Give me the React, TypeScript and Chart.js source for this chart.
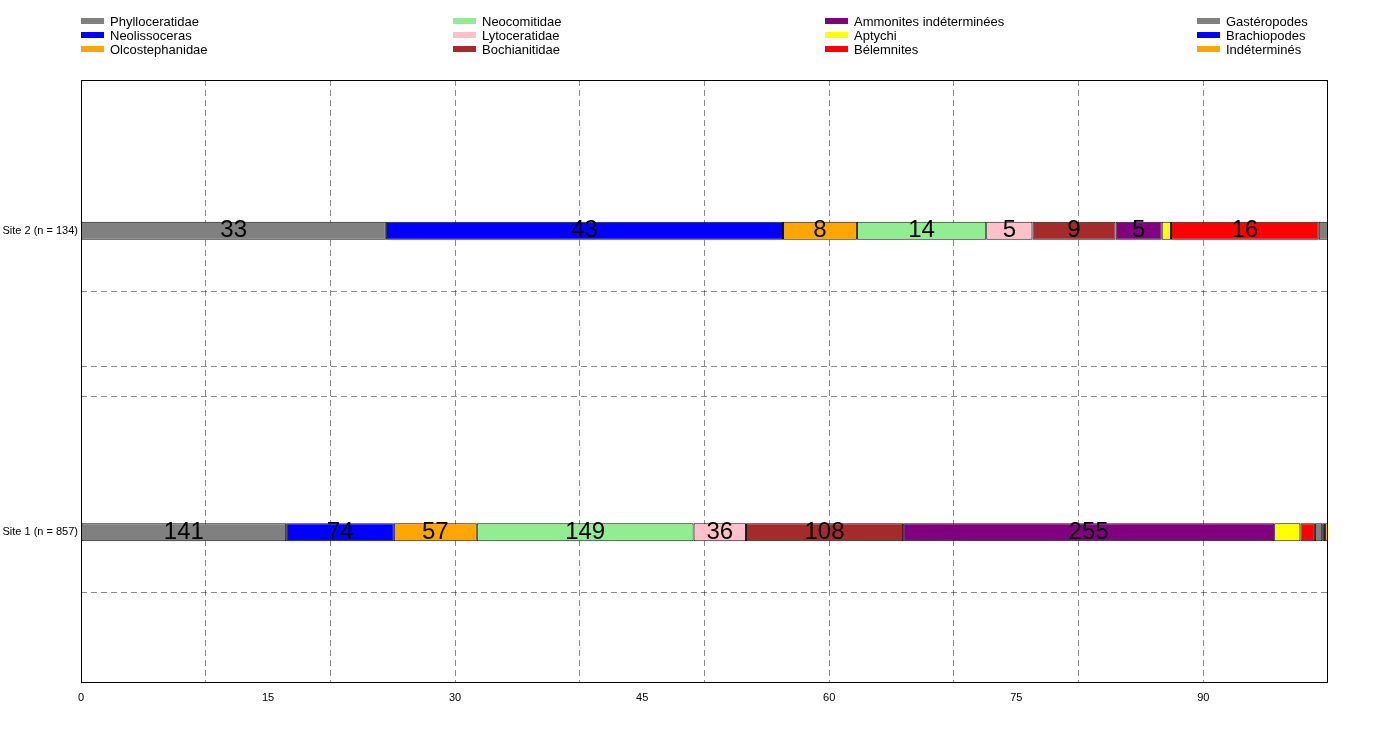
import React, { useEffect, useRef } from "react";
import { Chart, registerables } from "chart.js";
Chart.register(...registerables);

const categories = ["Site 2 (n = 134)", "Site 1 (n = 857)"];
const groups = [
  "Phylloceratidae", "Neolissoceras", "Olcostephanidae",
  "Neocomitidae", "Lytoceratidae", "Bochianitidae",
  "Ammonites indéterminées", "Aptychi", "Bélemnites",
  "Gastéropodes", "Brachiopodes", "Indéterminés",
];
const colors = [
  "#808080", "#0000ff", "#ffa500", "#90ee90", "#ffc0cb", "#a52a2a",
  "#800080", "#ffff00", "#ff0000", "#808080", "#0000ff", "#ffa500",
];
const site2Counts = [33, 43, 8, 14, 5, 9, 5, 1, 16, 1, 0, 0];
const site1Counts = [141, 74, 57, 149, 36, 108, 255, 18, 10, 5, 2, 2];
const yGridValues = [0.4, 0.5, 0.6];

const FONT = "'Liberation Sans', Arial, sans-serif";

export default function App() {
  const ref = useRef<HTMLCanvasElement>(null);
  useEffect(() => {
    const sums = [site2Counts, site1Counts].map((a) => a.reduce((s, v) => s + v, 0));
    const counts = groups.map((_, i) => [site2Counts[i], site1Counts[i]]);
    const datasets = groups.map((g, i) => ({
      label: g,
      data: counts[i].map((c, k) => ({ x: (c / sums[k]) * 100, y: k })),
      backgroundColor: colors[i],
      borderColor: "#111",
      borderWidth: 1,
      borderSkipped: false,
      barPercentage: 0.6,
      categoryPercentage: 1,
    }));
    const deco = {
      id: "deco",
      afterDatasetsDraw(chart: any) {
        const { ctx, chartArea: a } = chart;
        ctx.save();
        ctx.font = `24px ${FONT}`;
        ctx.fillStyle = "#000";
        ctx.textAlign = "center";
        ctx.textBaseline = "middle";
        chart.data.datasets.forEach((ds: any, i: number) => {
          const meta = chart.getDatasetMeta(i);
          meta.data.forEach((el: any, k: number) => {
            if (ds.data[k].x >= 3) {
              ctx.fillText(String(counts[i][k]), (el.x + el.base) / 2, el.y);
            }
          });
        });
        ctx.strokeStyle = "#000";
        ctx.setLineDash([]);
        ctx.lineWidth = 1;
        ctx.strokeRect(a.left + 0.5, a.top + 0.5, a.right - a.left - 1, a.bottom - a.top - 1);
        ctx.restore();
      },
    };
    const chart = new Chart(ref.current!, {
      type: "bar",
      data: { datasets },
      options: {
        indexAxis: "y",
        animation: false,
        responsive: false,
        layout: { padding: { left: 0, right: 60, top: 80, bottom: 50 } },
        plugins: { legend: { display: false }, tooltip: { enabled: false } },
        scales: {
          x: {
            type: "linear",
            stacked: true,
            min: 0,
            max: 100,
            afterFit: (s: any) => { s.height = 20; },
            border: { display: false, dash: [6, 4] },
            ticks: {
              stepSize: 5,
              autoSkip: false,
              maxRotation: 0,
              color: "#000",
              font: { family: FONT, size: 11 },
              padding: 8,
              callback: (v: any) => (v % 15 === 0 && v < 100 ? String(v) : ""),
            },
            grid: {
              drawTicks: false,
              color: (c: any) => {
                const v = c.tick?.value;
                return v % 10 === 0 && v > 0 && v < 100 ? "rgba(0,0,0,0.45)" : "rgba(0,0,0,0)";
              },
            },
          },
          y: {
            type: "linear",
            stacked: true,
            reverse: true,
            min: -0.3,
            max: 1.3,
            afterFit: (s: any) => { s.width = 81; },
            afterBuildTicks: (s: any) => {
              s.ticks = [0, ...yGridValues, 1].map((v) => ({ value: v }));
            },
            border: { display: false, dash: [6, 4] },
            grid: {
              drawTicks: false,
              color: (c: any) => {
                const v = c.tick?.value;
                return v === 0 || v === 1 ? "rgba(0,0,0,0)" : "rgba(0,0,0,0.45)";
              },
            },
            ticks: {
              autoSkip: false,
              color: "#000",
              font: { family: FONT, size: 11 },
              padding: 3,
              callback: (v: any) => (v === 0 || v === 1 ? categories[v] : ""),
            },
          },
        },
      } as any,
      plugins: [deco],
    });
    return () => chart.destroy();
  }, []);

  return (
    <div style={{ position: "absolute", left: 0, top: 0, width: 1388, height: 753, background: "#fff", fontFamily: FONT }}>
      <canvas ref={ref} width={1388} height={753} style={{ position: "absolute", left: 0, top: 0 }} />
      {groups.map((g, i) => {
        const col = Math.floor(i / 3);
        const row = i % 3;
        return (
          <div key={g} style={{ position: "absolute", left: 81 + col * 372, top: 14 + row * 14, height: 14, display: "flex", alignItems: "center", fontSize: 13, color: "#000", whiteSpace: "nowrap" }}>
            <span style={{ display: "inline-block", width: 23, height: 6, background: colors[i], marginRight: 6 }} />
            {g}
          </div>
        );
      })}
    </div>
  );
}
